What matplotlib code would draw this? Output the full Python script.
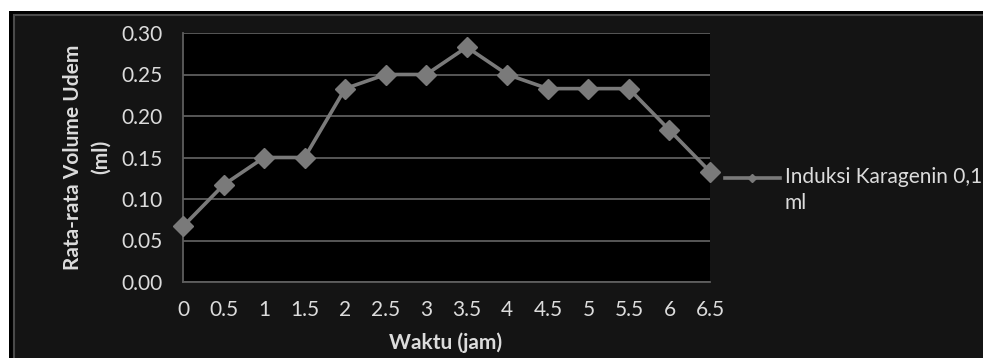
import matplotlib.pyplot as plt
import numpy as np
from matplotlib.lines import Line2D
from matplotlib.patches import Rectangle

# 数据
waktu = ['0', '0.5', '1', '1.5', '2', '2.5', '3', '3.5', '4', '4.5', '5', '5.5', '6', '6.5']
volume = [0.067, 0.117, 0.150, 0.150, 0.233, 0.250, 0.250, 0.283, 0.250, 0.233, 0.233, 0.233, 0.183, 0.133]
series_label = 'Induksi Karagenin 0,1\nml'
y_ticks = [0.00, 0.05, 0.10, 0.15, 0.20, 0.25, 0.30]

W, H = 983, 358
text_color = '#dcdcdc'
line_color = '#7a7a7a'
grid_color = '#5e5e5e'

plt.rcParams['font.family'] = ['Lato', 'DejaVu Sans']

fig = plt.figure(figsize=(W / 100, H / 100), dpi=100)
fig.patch.set_facecolor('white')

# 图表外框
fig.add_artist(Rectangle((9 / W, 0), 1, 1 - 11 / H, transform=fig.transFigure,
                         facecolor='#000000', edgecolor='none', zorder=0))
fig.add_artist(Rectangle((14 / W, -0.1), 1, 1 - 15 / H + 0.1, transform=fig.transFigure,
                         facecolor='#141414', edgecolor='#4a4a4a', linewidth=1.5, zorder=0))

ax = fig.add_axes([183 / W, 1 - 282 / H, (710 - 183) / W, (282 - 33) / H])
ax.set_facecolor('black')

x = np.arange(len(waktu))
ax.plot(x, volume, color=line_color, linewidth=2.6, marker='D', markersize=10,
        markerfacecolor=line_color, markeredgecolor=line_color, zorder=3, clip_on=False)

ax.set_xlim(0, len(waktu) - 1)
ax.set_ylim(0, 0.30)
ax.set_xticks(x)
ax.set_xticklabels(waktu)
ax.set_yticks(y_ticks)
ax.set_yticklabels(['%.2f' % v for v in y_ticks])
ax.tick_params(colors=text_color, labelsize=15, length=0)
ax.tick_params(axis='y', pad=15)
ax.tick_params(axis='x', pad=13)

ax.grid(True, axis='y', color=grid_color, linewidth=1.3)
ax.set_axisbelow(True)
for side in ['top', 'right']:
    ax.spines[side].set_visible(False)
for side in ['left', 'bottom']:
    ax.spines[side].set_color(grid_color)
    ax.spines[side].set_linewidth(1.3)

fig.text(446 / W, 1 - 343 / H, 'Waktu (jam)', ha='center', va='center',
         color=text_color, fontsize=15, fontweight='bold')
fig.text(87 / W, 1 - 157 / H, 'Rata-rata Volume Udem\n(ml)', ha='center', va='center',
         rotation=90, color=text_color, fontsize=15, fontweight='bold', linespacing=1.45)

# 图例
fig.add_artist(Line2D([725 / W, 780 / W], [1 - 178 / H, 1 - 178 / H], transform=fig.transFigure,
                      color=line_color, linewidth=2.6))
fig.add_artist(Line2D([752 / W], [1 - 178 / H], transform=fig.transFigure, marker='D',
                      markersize=4, color=line_color))
fig.text(785 / W, 1 - 167 / H, series_label, ha='left', va='top', color=text_color,
         fontsize=15, linespacing=1.4)

fig.savefig('out.png', dpi=100, facecolor=fig.get_facecolor())
